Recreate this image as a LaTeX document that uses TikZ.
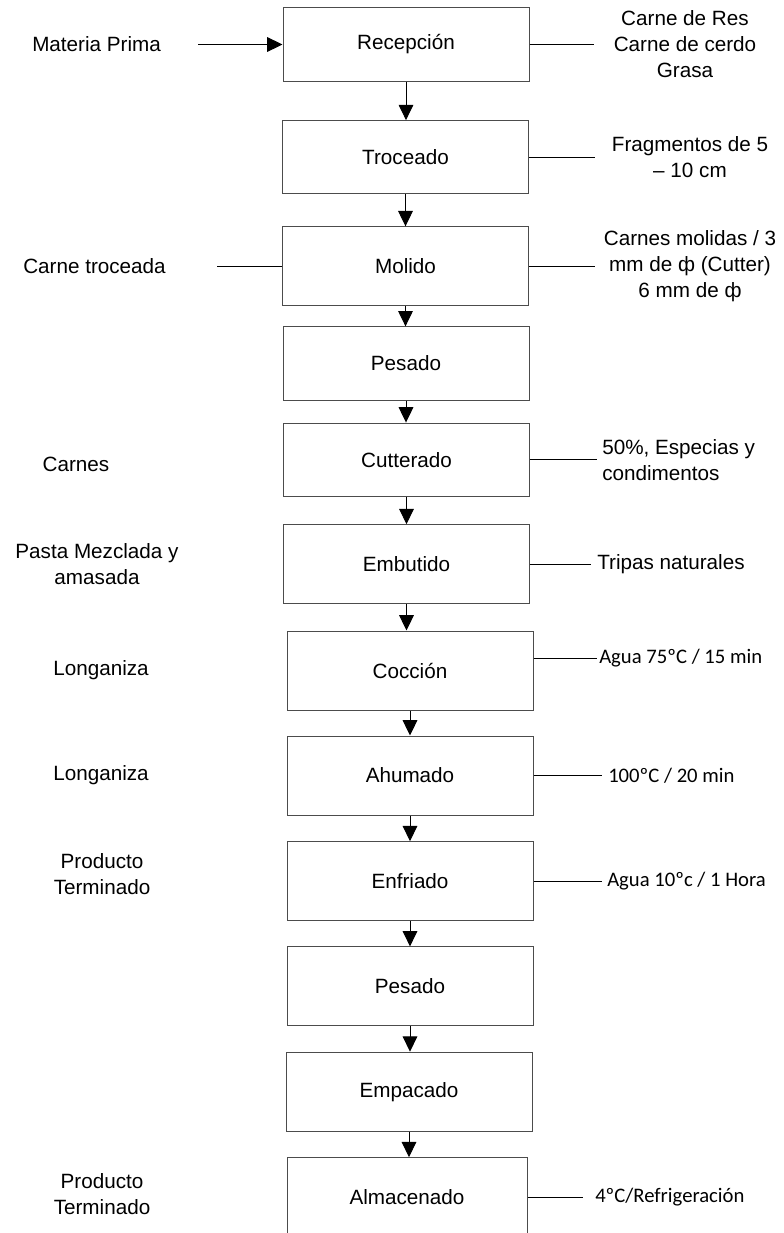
\documentclass[tikz,border=0pt]{standalone}
\usepackage{fontspec}
\setmainfont{Liberation Sans}
\newfontfamily\calibri{Carlito}
\usetikzlibrary{arrows.meta,calc}
\tikzset{
  paso/.style={
    draw=black!70,
    line width=0.75pt,
    shape=rectangle,
    minimum width=184.5pt,
    minimum height=59.25pt,
    inner sep=0pt
  },
  pasocorto/.style={
    paso,
    minimum height=55pt
  },
  etiqueta/.style={
    align=center,
    inner sep=0pt
  },
  flecha/.style={
    -{Triangle[length=11.5pt,width=11pt]},
    line width=0.75pt
  },
  linea/.style={
    line width=0.75pt
  }
}

\begin{document}
\begin{tikzpicture}[x=0.75pt,y=-0.75pt,font=\fontsize{15.5pt}{19.5pt}\selectfont]
  \useasboundingbox (0,0) rectangle (784,1233);
  \clip (0,0) rectangle (784,1233);
  % pasos del proceso
  \node[pasocorto] (rec)  at (406,44.5)   {Recepción};
  \node[pasocorto] (troz) at (405.5,157.3) {Troceado};
  \node[paso]      (mol)  at (405.5,266.3) {Molido};
  \node[pasocorto] (pes1) at (406,363.5)  {Pesado};
  \node[pasocorto] (cut)  at (406.5,459.7) {Cutterado};
  \node[paso]      (emb)  at (406.5,564.2) {Embutido};
  \node[paso]      (coc)  at (410,670.5)  {Cocción};
  \node[paso]      (ahu)  at (410,775.5)  {Ahumado};
  \node[paso]      (enf)  at (410,881.2)  {Enfriado};
  \node[paso]      (pes2) at (410,986.4)  {Pesado};
  \node[paso]      (emp)  at (409,1091.7) {Empacado};
  \node[paso, minimum width=180pt] (alm) at (407,1197.2) {Almacenado};
  % flechas entre pasos
  \foreach \a/\b in {rec/troz,troz/mol,mol/pes1,pes1/cut,cut/emb,emb/coc,
                     coc/ahu,ahu/enf,enf/pes2,pes2/emp,emp/alm}
    \draw[flecha] (\a.south) -- (\a.south |- \b.north);
  % entradas (izquierda)
  \node[etiqueta, anchor=west] (mp)  at (32,44.5) {Materia Prima};
  \coordinate (mpfin) at (198,44.5);
  \draw[flecha] (mpfin) -- (rec.west);
  \node[etiqueta, anchor=west] (ctr) at (23,266) {Carne troceada};
  \coordinate (ctrfin) at (217,266.3);
  \draw[linea] (ctrfin) -- (mol.west);
  \node[etiqueta] (carn) at (76,464)  {Carnes};
  \node[etiqueta] (pasta) at (97,564) {Pasta Mezclada y\\amasada};
  \node[etiqueta] (lon1) at (101,670) {Longaniza};
  \node[etiqueta] (lon2) at (101,775) {Longaniza};
  \node[etiqueta] (prod1) at (102,874)  {Producto\\Terminado};
  \node[etiqueta] (prod2) at (102,1194) {Producto\\Terminado};
  % salidas (derecha)
  \coordinate (recfin) at (594,44.5);
  \draw[linea] (rec.east) -- (recfin);
  \node[etiqueta] (carnes) at (685,44.5) {Carne de Res\\Carne de cerdo\\Grasa};
  \coordinate (trozfin) at (595,157.3);
  \draw[linea] (troz.east) -- (trozfin);
  \node[etiqueta] (frag) at (690,157.5) {Fragmentos de 5\\– 10 cm};
  \coordinate (molfin) at (595,266.3);
  \draw[linea] (mol.east) -- (molfin);
  \node[etiqueta] (molida) at (690,266.5) {Carnes molidas / 3\\mm de ф (Cutter)\\6 mm de ф};
  \coordinate (cutfin) at (597,459.7);
  \draw[linea] (cut.east) -- (cutfin);
  \node[etiqueta, anchor=west, align=left] (esp) at (602,460.5) {50\%, Especias y\\condimentos};
  \coordinate (embfin) at (591,564.2);
  \draw[linea] (emb.east) -- (embfin);
  \node[etiqueta, anchor=west] (trip) at (597,564.2) {Tripas naturales};
  \coordinate (cocfin) at (597,658);
  \draw[linea] (cocfin -| coc.east) -- (cocfin);
  \node[etiqueta, anchor=west] (agua1) at (599,658) {\calibri Agua 75ºC / 15 min};
  \coordinate (ahufin) at (602,775.5);
  \draw[linea] (ahu.east) -- (ahufin);
  \node[etiqueta, anchor=west] (temp) at (608,775.5) {\calibri 100ºC / 20 min};
  \coordinate (enffin) at (602,881.2);
  \draw[linea] (enf.east) -- (enffin);
  \node[etiqueta, anchor=west] (agua2) at (607,881.2) {\calibri Agua 10ºc / 1 Hora};
  \coordinate (almfin) at (583,1197.2);
  \draw[linea] (alm.east) -- (almfin);
  \node[etiqueta, anchor=west] (refr) at (595,1197.2) {\calibri 4ºC/Refrigeración};
\end{tikzpicture}
\end{document}
